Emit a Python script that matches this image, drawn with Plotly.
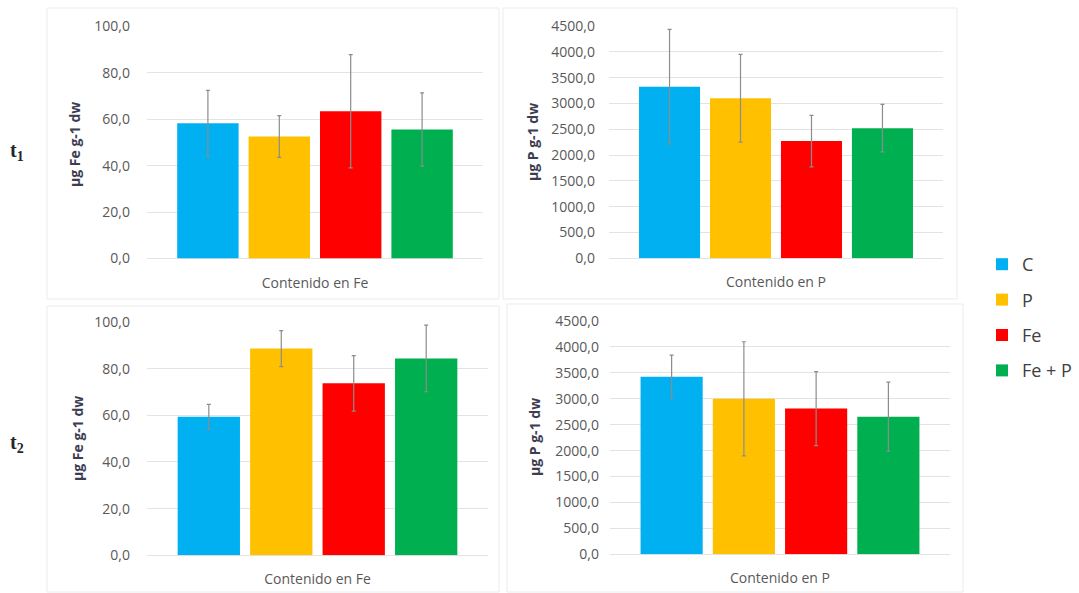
import plotly.graph_objects as go

# ---- data ----
treatments = ["C", "P", "Fe", "Fe + P"]
colors = ["#00B0F0", "#FFC000", "#FF0000", "#00B050"]

cat_fe = ["Contenido en Fe"]
cat_p = ["Contenido en P"]

fe_t1 = [58.3, 52.6, 63.5, 55.6]
fe_t1_err = [14.2, 9.0, 24.4, 15.8]
p_t1 = [3325, 3100, 2270, 2520]
p_t1_err = [1110, 850, 500, 460]

fe_t2 = [59.4, 88.6, 73.7, 84.4]
fe_t2_err = [5.3, 7.7, 11.9, 14.3]
p_t2 = [3425, 3000, 2810, 2655]
p_t2_err = [415, 1100, 715, 665]

fe_ticks = [0, 20, 40, 60, 80, 100]
p_ticks = [0, 500, 1000, 1500, 2000, 2500, 3000, 3500, 4000, 4500]

W, H = 1079, 593

def px(x):
    return x / W

def py(y):
    return 1 - y / H

panels = [
    ("x", "y", cat_fe, fe_t1, fe_t1_err, 100, fe_ticks, (147, 483), (26.5, 258.5), 16),
    ("x2", "y2", cat_p, p_t1, p_t1_err, 4500, p_ticks, (609, 943), (26, 258.3), 13),
    ("x3", "y3", cat_fe, fe_t2, fe_t2_err, 100, fe_ticks, (147, 488), (322, 555.3), 16),
    ("x4", "y4", cat_p, p_t2, p_t2_err, 4500, p_ticks, (610, 950), (321, 554.3), 10),
]

fig = go.Figure()
tick_font = dict(family="Open Sans", size=14, color="#595959")
grid_col = "#e3e3e3"

layout_axes = {}
for pi, (xa, ya, cat, vals, errs, ymax, ticks, xd, yd, standoff) in enumerate(panels):
    for i, name in enumerate(treatments):
        fig.add_trace(go.Bar(
            x=cat, y=[vals[i]], name=name,
            marker=dict(color=colors[i], line=dict(width=0)),
            error_y=dict(type="data", array=[errs[i]], visible=True,
                         color="#8c8c8c", thickness=1.2, width=2),
            xaxis=xa, yaxis=ya,
            legendgroup=name, showlegend=(pi == 0),
        ))
    xkey = "xaxis" + xa[1:]
    ykey = "yaxis" + ya[1:]
    layout_axes[xkey] = dict(
        domain=[px(xd[0]), px(xd[1])], anchor=ya, automargin=False,
        showgrid=False, showline=False, zeroline=False, ticks="",
        tickfont=dict(family="Open Sans", size=14, color="#595959"),
        ticklabelstandoff=14,
    )
    layout_axes[ykey] = dict(
        domain=[py(yd[1]), py(yd[0])], anchor=xa, automargin=False,
        range=[0, ymax], tickvals=ticks, tickformat=".1f",
        showgrid=True, gridcolor=grid_col, gridwidth=1,
        zeroline=True, zerolinecolor=grid_col, zerolinewidth=1,
        showline=False, ticks="", tickfont=tick_font,
        ticklabelstandoff=standoff,
    )

fig.update_layout(**layout_axes)

ytitles = [
    ("µg Fe g-1 dw", 74, 145),
    ("µg P g-1 dw", 532, 142),
    ("µg Fe g-1 dw", 77, 439),
    ("µg P g-1 dw", 535, 437),
]
annotations = []
for txt, x, y in ytitles:
    annotations.append(dict(
        text="<b>%s</b>" % txt, x=px(x), y=py(y), xref="paper", yref="paper",
        showarrow=False, textangle=-90, xanchor="center", yanchor="middle",
        font=dict(family="Open Sans", size=14, color="#3d3d52"),
    ))

for txt, y in [("t<sub>1</sub>", 152), ("t<sub>2</sub>", 443)]:
    annotations.append(dict(
        text="<b>%s</b>" % txt, x=px(17), y=py(y), xref="paper", yref="paper",
        showarrow=False, xanchor="center", yanchor="middle",
        font=dict(family="Liberation Serif", size=20, color="#262626"),
    ))

frames = [(47, 8, 499, 299), (503, 8, 957, 299), (47, 306, 499, 592), (507, 304, 963, 592)]
shapes = []
for x0, y0, x1, y1 in frames:
    shapes.append(dict(type="rect", xref="paper", yref="paper",
                       x0=px(x0), x1=px(x1), y0=py(y1), y1=py(y0),
                       line=dict(color="#ebebeb", width=1), fillcolor="rgba(0,0,0,0)",
                       layer="below"))

fig.update_layout(
    width=W, height=H,
    margin=dict(l=0, r=0, t=0, b=0, autoexpand=False),
    paper_bgcolor="white", plot_bgcolor="white",
    barmode="group", bargap=0.15, bargroupgap=0.14,
    separators=", ",
    annotations=annotations, shapes=shapes,
    showlegend=True,
    legend=dict(
        x=px(982), y=py(246), xanchor="left", yanchor="top",
        font=dict(family="Open Sans", size=18, color="#404040"),
        tracegroupgap=9, bgcolor="rgba(0,0,0,0)", borderwidth=0,
        itemwidth=30,
    ),
)

fig.write_html("out.html", config={"displayModeBar": False},
               post_script="document.body.style.margin='0';document.body.style.overflow='hidden';")
